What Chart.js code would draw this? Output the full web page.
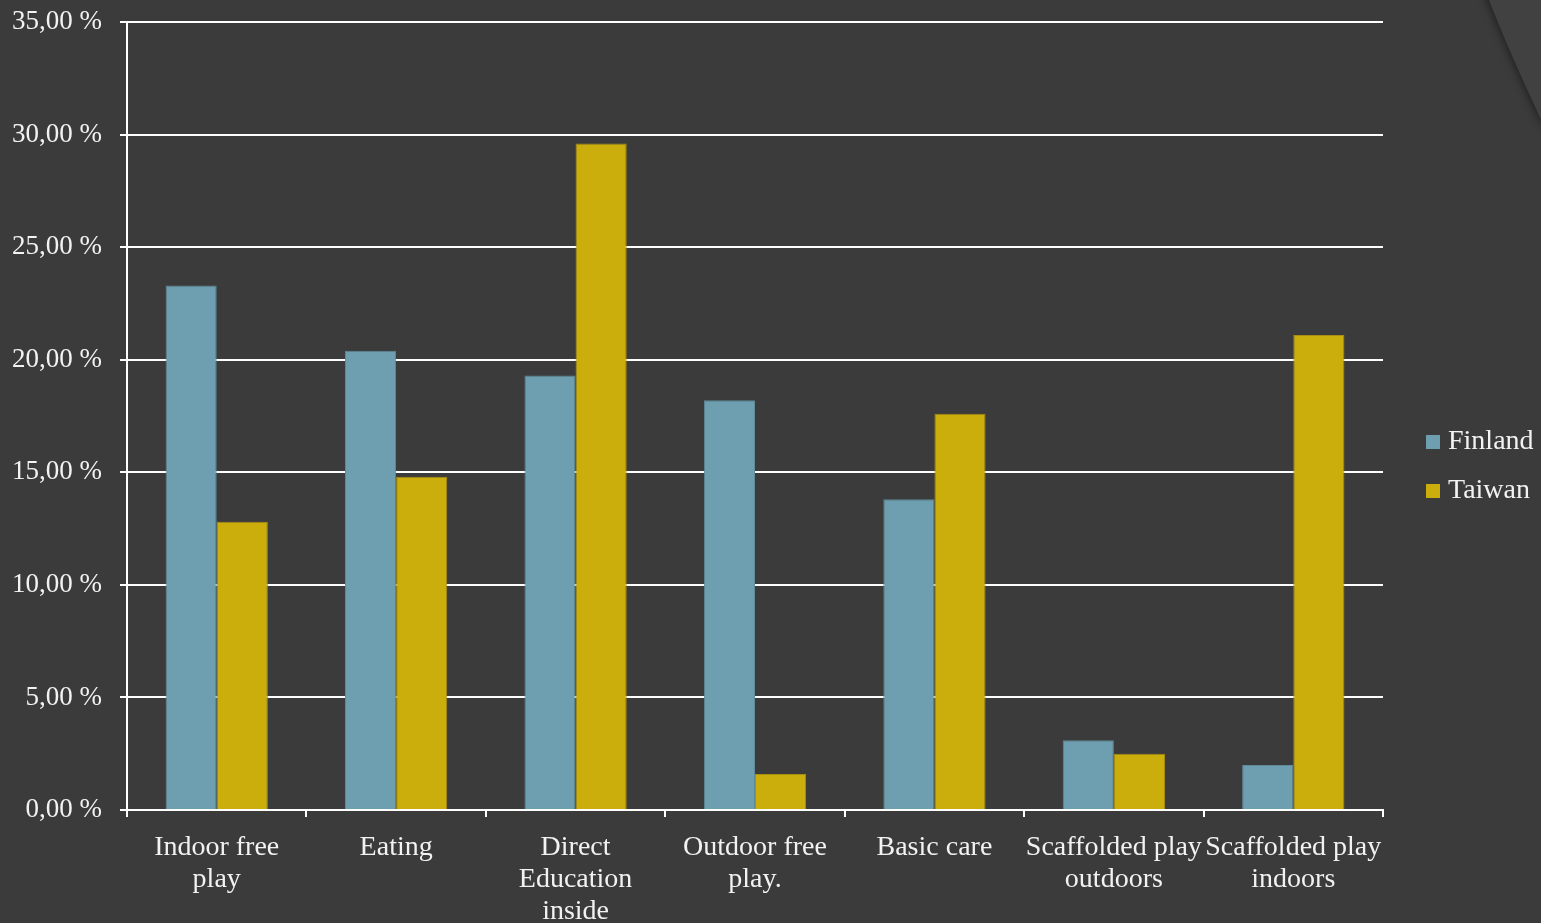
<!DOCTYPE html>
<html>
<head>
<meta charset="utf-8">
<title>Finland vs Taiwan</title>
<script src="https://cdn.jsdelivr.net/npm/chart.js@4/dist/chart.umd.min.js"></script>
<style>
    html, body { margin: 0; padding: 0; background: #3b3b3b; }
    #wrap { width: 1541px; height: 923px; position: relative; }
</style>
</head>
<body>
<div id="wrap"><canvas id="activityChart"></canvas></div>
<script>
// --- data ---
const categories = [
    ['Indoor free', 'play'],
    'Eating',
    ['Direct', 'Education', 'inside'],
    ['Outdoor free', 'play.'],
    'Basic care',
    ['Scaffolded play', 'outdoors'],
    ['Scaffolded play', 'indoors']
];
const finland = [23.3, 20.4, 19.3, 18.2, 13.8, 3.1, 2.0];
const taiwan = [12.8, 14.8, 29.6, 1.6, 17.6, 2.5, 21.1];
const seriesNames = ['Finland', 'Taiwan'];
const yTickLabels = ['0,00 %', '5,00 %', '10,00 %', '15,00 %', '20,00 %', '25,00 %', '30,00 %', '35,00 %'];

const FONT = "'Liberation Serif', 'DejaVu Serif', serif";
const TEXT = '#f2f2f2';

// background + the theme's corner swoosh
const backdrop = {
    id: 'backdrop',
    beforeDraw(chart) {
        const c = chart.ctx;
        c.save();
        c.fillStyle = '#3b3b3b';
        c.fillRect(0, 0, chart.width, chart.height);
        c.shadowColor = 'rgba(0,0,0,0.45)';
        c.shadowBlur = 8;
        c.shadowOffsetX = -2;
        c.beginPath();
        c.moveTo(1485, -10);
        c.quadraticCurveTo(1508, 50, 1545, 128);
        c.lineTo(1560, -10);
        c.closePath();
        c.fillStyle = '#414141';
        c.fill();
        c.restore();
    }
};

// legend on the right, drawn by hand so it sits where the original has it
const sideLegend = {
    id: 'sideLegend',
    afterDraw(chart) {
        const c = chart.ctx;
        c.save();
        c.font = '28px ' + FONT;
        c.textBaseline = 'middle';
        chart.data.datasets.forEach((ds, i) => {
            const y = 442 + i * 49;
            c.fillStyle = ds.backgroundColor;
            c.fillRect(1426, y - 7, 14, 14);
            c.fillStyle = TEXT;
            c.fillText(ds.label, 1448, y);
        });
        c.restore();
    }
};

new Chart(document.getElementById('activityChart'), {
    type: 'bar',
    data: {
        labels: categories,
        datasets: [{
            label: seriesNames[0],
            data: finland,
            backgroundColor: '#6e9fb0',
            borderColor: '#5f8a99',
            borderWidth: 1
        }, {
            label: seriesNames[1],
            data: taiwan,
            backgroundColor: '#cbae0c',
            borderColor: '#a98f10',
            borderWidth: 1
        }]
    },
    options: {
        responsive: true,
        maintainAspectRatio: false,
        animation: false,
        categoryPercentage: 0.57,
        barPercentage: 1.0,
        layout: { padding: { top: 22, right: 158, left: 0, bottom: 0 } },
        plugins: {
            legend: { display: false },
            tooltip: { enabled: false }
        },
        scales: {
            x: {
                afterFit: s => { s.height = 113; },
                grid: {
                    drawOnChartArea: false,
                    drawTicks: true,
                    tickLength: 7,
                    color: '#ffffff',
                    lineWidth: 2
                },
                border: { color: '#ffffff', width: 2 },
                ticks: {
                    color: TEXT,
                    padding: 15,
                    maxRotation: 0,
                    autoSkip: false,
                    font: { family: FONT, size: 28, lineHeight: 1.14 }
                }
            },
            y: {
                min: 0,
                max: 35,
                afterFit: s => { s.width = 127; s.paddingTop = 0; s.paddingBottom = 0; },
                grid: {
                    color: '#ffffff',
                    lineWidth: 2,
                    tickLength: 7
                },
                border: { color: '#ffffff', width: 2 },
                ticks: {
                    stepSize: 5,
                    color: TEXT,
                    padding: 18,
                    font: { family: FONT, size: 27 },
                    callback: (v, i) => yTickLabels[i]
                }
            }
        }
    },
    plugins: [backdrop, sideLegend]
});
</script>
</body>
</html>
